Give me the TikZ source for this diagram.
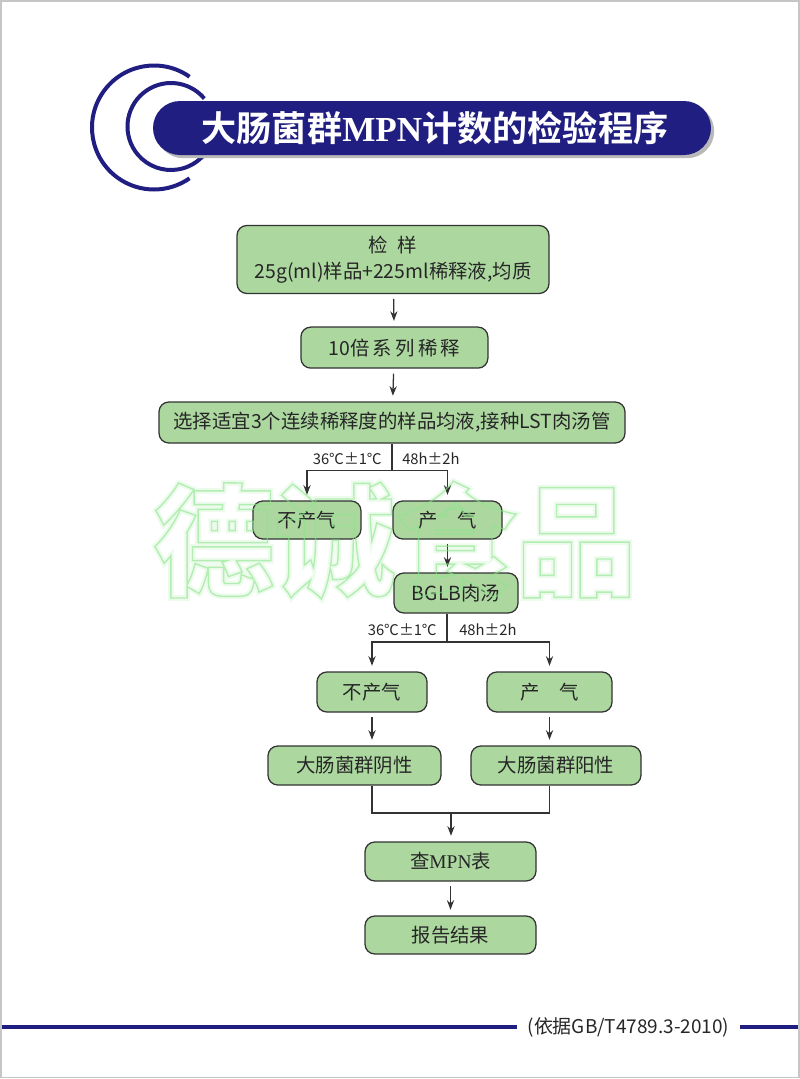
\documentclass[tikz,border=0pt]{standalone}
\usepackage{fontspec}
\setmainfont{Noto Sans CJK SC}[BoldFont=Noto Sans CJK SC Bold]
\newfontfamily\latinserif{Liberation Serif}
\newfontfamily\wmfont{Noto Sans CJK SC Black}
\usepackage{tikz}
\usetikzlibrary{arrows.meta,positioning}
\usepackage{xcolor}
\definecolor{navy}{RGB}{32,30,128}
\definecolor{boxgreen}{RGB}{172,216,160}
\newcommand{\wmstroke}[3]{\special{pdf:literal direct #1 RG #2 w 1 Tr}#3\special{pdf:literal direct 0 Tr}}

\begin{document}
\begin{tikzpicture}[
  stepbox/.style={draw=black!80,line width=0.9pt,rounded corners=7pt,fill=boxgreen,minimum height=1cm,align=center,text=black!85,font=\fontsize{13.8}{18.5}\selectfont},
  lbl/.style={font=\fontsize{10.5}{12}\selectfont,text=black!85,inner sep=0pt},
  line/.style={draw=black!80,line width=0.9pt},
  arr/.style={line,-{Stealth[length=2.4mm,width=1.8mm]},shorten >=0.14cm},
  nxt/.style={arr,shorten <=0.12cm},
  footline/.style={draw=navy,line width=3.5pt}
]
\useasboundingbox (0,0) rectangle (20,-26.975);
\draw[gray!45,line width=1pt] (0.025,-0.025) rectangle (19.975,-26.94);

\draw[navy,line width=0.1cm] (3.85,-3.1875) ++(55:1.55) arc[start angle=55,end angle=305,radius=1.55];
\draw[navy,line width=0.1cm] (4.275,-3.1625) ++(40:1.0875) arc[start angle=40,end angle=320,radius=1.0875];
\fill[gray!55,rounded corners=0.675cm] (3.905,-2.605) rectangle (17.855,-3.955);
\fill[navy,rounded corners=0.675cm] (3.825,-2.525) rectangle (17.775,-3.875);
\node[text=white,font=\bfseries\fontsize{25}{30}\selectfont] (title) at (10.875,-3.2) {大肠菌群{\latinserif\bfseries MPN}计数的检验程序};

\node[font=\wmfont\fontsize{86}{90}\selectfont,text opacity=0.5] (wmglow) at (9.875,-13.5) {\wmstroke{0.85 0.97 0.85}{4}{德诚食品}};

\node[stepbox,minimum width=7.8cm,minimum height=1.7cm] (sample) at (9.825,-6.4875) {检\enspace 样\\25g(ml)样品+225ml稀释液,均质};
\node[stepbox,minimum width=4.675cm,minimum height=1.025cm] (dil) at (9.86,-8.69) {10倍\,系\,列\,稀\,释};
\node[stepbox,minimum width=11.65cm,minimum height=1.025cm] (sel) at (9.8,-10.5625) {选择适宜3个连续稀释度的样品均液,接种LST肉汤管};
\node[stepbox,minimum width=2.7cm,minimum height=0.95cm] (neg1) at (7.675,-13.0) {不产气};
\node[stepbox,minimum width=2.725cm,minimum height=0.95cm] (pos1) at (11.1875,-13.0) {产\quad 气};
\node[stepbox,minimum width=3.1cm] (bglb) at (11.4,-14.825) {BGLB肉汤};
\node[stepbox,minimum width=2.75cm] (neg2) at (9.3,-17.3) {不产气};
\node[stepbox,minimum width=3.125cm] (pos2) at (13.7375,-17.3) {产\quad 气};
\node[stepbox,minimum width=4.325cm,minimum height=0.975cm] (cneg) at (8.8625,-19.1375) {大肠菌群阴性};
\node[stepbox,minimum width=4.25cm,minimum height=0.975cm] (cpos) at (13.9,-19.1375) {大肠菌群阳性};
\node[stepbox,minimum width=4.275cm,minimum height=0.975cm] (mpn) at (11.2625,-21.5375) {查{\latinserif MPN}表};
\node[stepbox,minimum width=4.275cm,minimum height=0.95cm] (report) at (11.2625,-23.375) {报告结果};

\draw[nxt] (sample) -- (dil);
\draw[nxt] (dil) -- (sel);

\coordinate (split1) at ([yshift=-0.675cm]sel.south);
\draw[line] (sel.south) -- (split1);
\draw[arr] (split1) -| (neg1);
\draw[arr] (split1) -| (pos1);
\node[lbl,anchor=east] (temp1) at ([xshift=-0.25cm,yshift=0.3cm]split1) {36℃±1℃};
\node[lbl,anchor=west] (time1) at ([xshift=0.25cm,yshift=0.3cm]split1) {48h±2h};

\draw[nxt] (pos1) -- (pos1 |- bglb.north);

\coordinate (split2) at (11.175,-16.05);
\draw[line] (split2 |- bglb.south) -- (split2);
\draw[arr] (split2) -| (neg2);
\draw[arr] (split2) -| (pos2);
\node[lbl,anchor=east] (temp2) at ([xshift=-0.25cm,yshift=0.3cm]split2) {36℃±1℃};
\node[lbl,anchor=west] (time2) at ([xshift=0.3cm,yshift=0.3cm]split2) {48h±2h};

\draw[nxt] (neg2) -- (neg2 |- cneg.north);
\draw[nxt] (pos2) -- (pos2 |- cpos.north);

\coordinate (merge) at (11.275,-20.325);
\draw[line] (neg2 |- cneg.south) |- (merge) -| (pos2 |- cpos.south);
\draw[arr] (merge) -- (merge |- mpn.north);
\draw[nxt] (mpn) -- (report);

\node[font=\wmfont\fontsize{86}{90}\selectfont,text opacity=0.6] (wm) at (9.875,-13.5) {\wmstroke{0.55 0.9 0.55}{1}{德诚食品}};

\node[font=\fontsize{13.5}{15}\selectfont,text=black!85,inner sep=0.25cm] (foot) at (15.7125,-25.675) {(依据GB/T4789.3-2010)};
\coordinate (footl) at (0.05,-25.675);
\coordinate (footr) at (19.95,-25.675);
\draw[footline] (footl) -- (foot);
\draw[footline] (foot) -- (footr);
\end{tikzpicture}
\end{document}
